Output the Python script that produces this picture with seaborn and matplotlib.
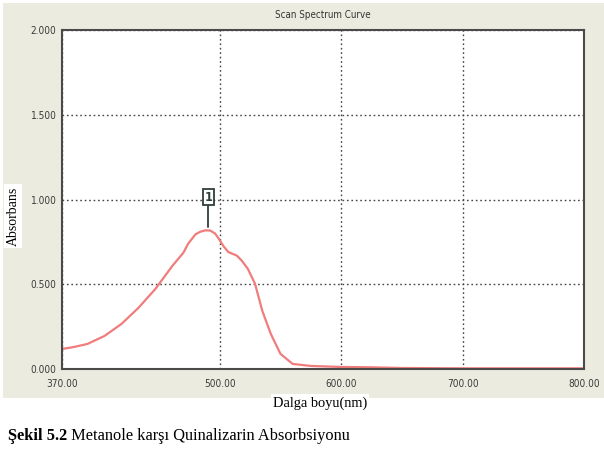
import matplotlib
matplotlib.use("Agg")
import matplotlib.pyplot as plt
import seaborn as sns
import pandas as pd

# ---- data ----
wavelength = [370, 380, 391, 405, 419, 433, 447, 461, 470, 474, 480, 484, 488,
              492, 496, 499, 503, 507, 511, 514, 518, 523, 529, 535, 542, 550,
              560, 575, 600, 625, 650, 700, 750, 800]
absorbance = [0.118, 0.130, 0.148, 0.195, 0.266, 0.361, 0.473, 0.609, 0.686,
              0.740, 0.795, 0.810, 0.818, 0.817, 0.800, 0.770, 0.725, 0.690,
              0.678, 0.669, 0.640, 0.592, 0.503, 0.343, 0.207, 0.089, 0.030,
              0.018, 0.012, 0.010, 0.006, 0.004, 0.004, 0.004]
x_ticks = [370, 500, 600, 700, 800]
x_ticklabels = ["370.00", "500.00", "600.00", "700.00", "800.00"]
y_ticks = [0.0, 0.5, 1.0, 1.5, 2.0]
y_ticklabels = ["0.000", "0.500", "1.000", "1.500", "2.000"]
peak_label = "1"
peak_nm = 490.5

df = pd.DataFrame({"nm": wavelength, "A": absorbance})

sns.set_theme(style="white")
plt.rcParams["font.family"] = ["DejaVu Sans"]

W, H = 604, 453
fig = plt.figure(figsize=(W / 100, H / 100), dpi=100)
fig.patch.set_facecolor("white")

# beige panel (background axes)
bg = fig.add_axes([3 / W, 1 - 398 / H, 601 / W, 395 / H], zorder=-5)
bg.set_facecolor("#ECEBDF")
bg.set_xticks([])
bg.set_yticks([])
for s in bg.spines.values():
    s.set_visible(False)

ax = fig.add_axes([62 / W, 1 - 369 / H, (584 - 62) / W, (369 - 30) / H], zorder=1)
ax.set_facecolor("white")

sns.lineplot(data=df, x="nm", y="A", ax=ax, color="#F07C7C", linewidth=1.6)

ax.set_xlim(370, 800)
ax.set_ylim(0, 2.0)
ax.set_xticks(x_ticks)
ax.set_xticklabels(x_ticklabels)
ax.set_yticks(y_ticks)
ax.set_yticklabels(y_ticklabels)
ax.tick_params(axis="both", length=0, colors="#3a3a3a")
ax.tick_params(axis="x", pad=7)
ax.tick_params(axis="y", pad=4)
for lab in ax.get_xticklabels() + ax.get_yticklabels():
    lab.set_family("DejaVu Sans")
    lab.set_stretch("condensed")
    lab.set_fontsize(7.2)

ax.grid(True, linestyle=(0, (1.2, 2.0)), color="#444444", linewidth=1.0)
for s in ax.spines.values():
    s.set_color("#4a4a4a")
    s.set_linewidth(1.5)
ax.set_xlabel("")
ax.set_ylabel("")

# peak marker
ax.plot([peak_nm, peak_nm], [0.84, 0.96], color="#2f3f3a", linewidth=1.3)
ax.text(peak_nm, 1.012, peak_label, ha="center", va="center", fontsize=9,
        fontweight="bold", color="#2f3f3a", family="DejaVu Sans",
        stretch="condensed",
        bbox=dict(boxstyle="square,pad=0.12", facecolor="white",
                  edgecolor="#2f3f3a", linewidth=1.3))

# titles / labels
fig.text(322.5 / W, 1 - 15 / H, "Scan Spectrum Curve", ha="center", va="center",
         fontsize=7, color="#333333", family="DejaVu Sans", stretch="condensed")
fig.text(320 / W, 1 - 403 / H, "Dalga boyu(nm)", ha="center", va="center",
         fontsize=10.4, color="black", family="Liberation Serif",
         bbox=dict(boxstyle="square,pad=0.15", facecolor="white", edgecolor="none"))
fig.text(13 / W, 1 - 216 / H, "Absorbans", ha="center", va="center",
         rotation=90, fontsize=10, color="black", family="Liberation Serif",
         bbox=dict(boxstyle="square,pad=0.2", facecolor="white", edgecolor="none"))

# caption
cy = 1 - 440 / H
t1 = fig.text(8 / W, cy, "Şekil 5.2", ha="left", va="baseline", fontsize=11.8,
              fontweight="bold", family="Liberation Serif", color="black")
fig.canvas.draw()
bb = t1.get_window_extent()
fig.text(bb.x1 / fig.bbox.width, cy, " Metanole karşı Quinalizarin Absorbsiyonu",
         ha="left", va="baseline", fontsize=11.8, family="Liberation Serif",
         color="black")

fig.savefig("out.png", dpi=100, facecolor="white")
